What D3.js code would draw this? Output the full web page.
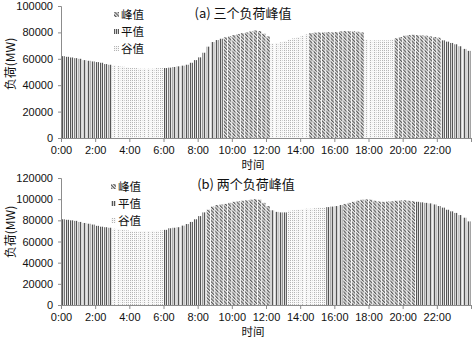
<!DOCTYPE html>
<html lang="zh">
<head>
<meta charset="UTF-8">
<title>负荷峰值</title>
<script src="https://d3js.org/d3.v7.min.js"></script>
<style>
    body { margin: 0; background: #fff; }
    svg { display: block; }
    .tick text { font-family: "Liberation Sans", Arial, sans-serif; font-size: 11px; fill: #111; }
    .axis path, .axis line { stroke: #8c8c8c; }
    .cjk { font-family: "Noto Sans CJK SC", sans-serif; fill: #111; }
</style>
</head>
<body>
<script>
// 96 quarter-hour loads, panel (a)
const loadA = [
    62000, 61500, 61000, 60500, 60000, 59000, 58500, 58000, 57500, 57000, 56000, 55500,
    55000, 54500, 54000, 53500, 53000, 53000, 52500, 52500, 52500, 52500, 53000, 53000,
    53000, 53300, 53800, 54300, 54800, 55500, 57000, 59000, 61100, 64600, 69200, 72700, 74200, 75200,
    76300, 77000, 78000, 78800, 79500, 80000, 80800, 81500, 81000, 79000, 77000,
    71700, 72000, 72500, 73500, 74500, 75500, 76500, 77500, 78500,
    79500, 79800, 80000, 80000, 80200, 80000, 80300, 80800, 81000, 81000, 80800, 80500, 80000,
    74500, 74000, 74000, 74000, 74000, 74000, 74500,
    75500, 76500, 77500, 78000, 78200, 78000, 77800, 77500, 77000, 76500, 76000,
    74000, 73000, 72000, 71000, 69500, 67500, 66000
];
// 96 quarter-hour loads, panel (b)
const loadB = [
    81000, 80500, 80000, 79500, 78500, 77500, 76800, 76000, 74800, 74000, 73500, 73000,
    72000, 71500, 71000, 70500, 70000, 70000, 69800, 69800, 69800, 70000, 70000, 70500,
    71000, 72500, 73000, 73500, 75000, 76500, 78500, 81000, 84000, 87500,
    90000, 93000, 94500, 95000, 95500, 96500, 97500, 98000, 98500, 99000, 99500, 100000, 99500, 96500, 93500,
    89500, 88000, 87500, 87500,
    89000, 89500, 90000, 90500, 91000, 91000, 91500, 92000, 92000,
    92500, 93000, 93500, 94500,
    95500, 96500, 97500, 98500, 99500, 99800, 99500, 98500, 97800, 97500, 97800, 98000, 98500, 98800, 99000, 98500, 98000,
    97500, 97000, 96500, 96000, 95000, 93500, 92000, 90000, 88500, 87000, 85000, 82500, 79000
];
// period segments: [first quarter index, type]
const periodsA = [[0, "flat"], [12, "valley"], [24, "flat"], [38, "peak"], [49, "valley"],
                  [58, "peak"], [71, "valley"], [78, "peak"], [89, "flat"]];
const periodsB = [[0, "flat"], [12, "valley"], [24, "flat"], [34, "peak"], [49, "flat"],
                  [53, "valley"], [62, "flat"], [66, "peak"], [83, "flat"]];
const legendNames = [["peak", "峰值"], ["flat", "平值"], ["valley", "谷值"]];
const hourTicks = [0, 2, 4, 6, 8, 10, 12, 14, 16, 18, 20, 22, 24];

const W = 472, H = 339;
const svg = d3.select("body").append("svg").attr("width", W).attr("height", H);

// fill patterns
const defs = svg.append("defs");
const pPeak = defs.append("pattern").attr("id", "peak").attr("patternUnits", "userSpaceOnUse")
    .attr("width", 2.4).attr("height", 2.4).attr("patternTransform", "rotate(-45)");
pPeak.append("rect").attr("width", 2.4).attr("height", 2.4).attr("fill", "#ececec");
pPeak.append("rect").attr("width", 1.2).attr("height", 2.4).attr("fill", "#5a5a5a");

const pFlat = defs.append("pattern").attr("id", "flat").attr("patternUnits", "userSpaceOnUse")
    .attr("width", 2).attr("height", 2);
pFlat.append("rect").attr("width", 2).attr("height", 2).attr("fill", "#d4d4d4");
pFlat.append("rect").attr("width", 1).attr("height", 2).attr("fill", "#555");

const pValley = defs.append("pattern").attr("id", "valley").attr("patternUnits", "userSpaceOnUse")
    .attr("width", 2).attr("height", 2);
pValley.append("rect").attr("width", 2).attr("height", 2).attr("fill", "#f7f7f7");
pValley.append("rect").attr("width", 1).attr("height", 1).attr("fill", "#b4b4b4");

function typeAt(periods, i) {
    let t = periods[0][1];
    periods.forEach(p => { if (i >= p[0]) t = p[1]; });
    return t;
}

function drawPanel(cfg) {
    const x = d3.scaleBand().domain(d3.range(cfg.data.length))
        .range([61, 471]).paddingInner(0.22).paddingOuter(0.11);
    const xt = d3.scaleLinear().domain([0, 24]).range([61, 471]);
    const y = d3.scaleLinear().domain([0, cfg.max]).range([cfg.bottom, cfg.top]);

    const g = svg.append("g");

    g.selectAll(".bar")
        .data(cfg.data)
        .enter()
        .append("rect")
        .attr("x", (d, i) => x(i))
        .attr("width", x.bandwidth())
        .attr("y", d => y(d))
        .attr("height", d => y(0) - y(d))
        .attr("fill", (d, i) => `url(#${typeAt(cfg.periods, i)})`);

    g.append("g")
        .attr("class", "axis")
        .attr("transform", "translate(61,0)")
        .call(d3.axisLeft(y).tickValues(d3.range(0, cfg.max + 1, 20000))
            .tickFormat(d3.format("d")).tickSizeOuter(0).tickSize(3).tickPadding(5));

    g.append("g")
        .attr("class", "axis")
        .attr("transform", `translate(0,${cfg.bottom})`)
        .call(d3.axisBottom(xt).tickValues(hourTicks).tickSize(4).tickPadding(4)
            .tickFormat(h => h === 24 ? "" : h + ":00"));

    // legend
    legendNames.forEach(([key, name], k) => {
        const ly = cfg.legendY + k * 17;
        g.append("rect").attr("x", cfg.legendX).attr("y", ly - 3)
            .attr("width", 5).attr("height", 5).attr("fill", `url(#${key})`);
        g.append("text").attr("class", "cjk").attr("x", cfg.legendX + 7).attr("y", ly + 4)
            .style("font-size", "11.5px").text(name);
    });

    g.append("text").attr("class", "cjk").attr("x", cfg.titleX).attr("y", cfg.titleY)
        .attr("text-anchor", "middle").style("font-size", "13px").text(cfg.title);

    g.append("text").attr("class", "cjk").attr("x", 253).attr("y", cfg.xlabelY)
        .attr("text-anchor", "middle").style("font-size", "11.5px").text("时间");

    g.append("text").attr("class", "cjk")
        .attr("transform", `translate(15,${cfg.ylabelY}) rotate(-90)`)
        .attr("text-anchor", "middle").style("font-size", "12px").text("负荷(MW)");
}

drawPanel({ data: loadA, periods: periodsA, max: 100000, top: 6, bottom: 138,
    legendX: 114, legendY: 15, title: "(a) 三个负荷峰值", titleX: 243, titleY: 18,
    xlabelY: 169, ylabelY: 64 });
drawPanel({ data: loadB, periods: periodsB, max: 120000, top: 178, bottom: 305,
    legendX: 111, legendY: 187, title: "(b) 两个负荷峰值", titleX: 246, titleY: 189,
    xlabelY: 336, ylabelY: 232 });
</script>
</body>
</html>
